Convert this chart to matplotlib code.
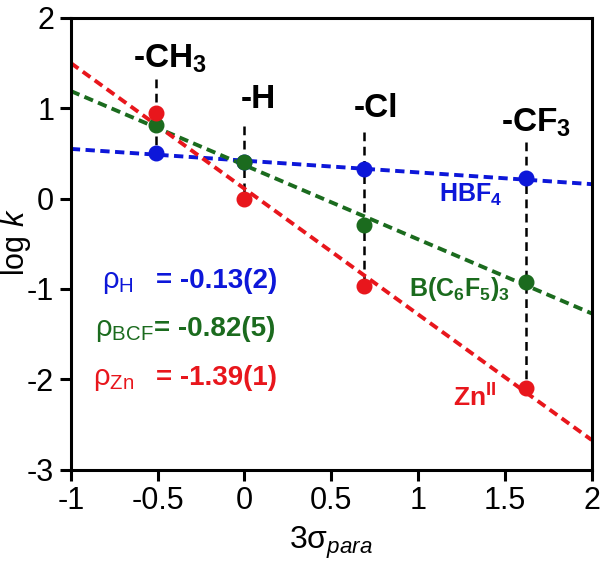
import numpy as np
import matplotlib.pyplot as plt

plt.rcParams['font.family'] = ['Liberation Sans', 'DejaVu Sans']
plt.rcParams['mathtext.fontset'] = 'custom'
plt.rcParams['mathtext.rm'] = 'Liberation Sans'
plt.rcParams['mathtext.it'] = 'Liberation Sans:italic'
plt.rcParams['mathtext.bf'] = 'Liberation Sans:bold'

# substituent constants (3*sigma_para)
sub_names = ['-CH$_{\\mathbf{3}}$', '-H', '-Cl', '-CF$_{\\mathbf{3}}$']
sigma3 = [-0.51, 0.0, 0.69, 1.62]

# log k values
logk_hbf = [0.51, 0.40, 0.33, 0.23]
logk_bcf = [0.81, 0.40, -0.29, -0.92]
logk_zn = [0.95, 0.0, -0.97, -2.09]

# fitted slopes / intercepts
rho = [-0.13, -0.82, -1.39]
icpt = [0.42, 0.37, 0.11]
rho_txt = ['= -0.13(2)', '= -0.82(5)', '= -1.39(1)']
rho_sub = ['H', 'BCF', 'Zn']

# top of black drop lines
drop_top = [1.32, 0.80, 0.74, 0.63]

blue = '#0d17d9'
green = '#1b6b1e'
red = '#e8161c'
cols = [blue, green, red]

fig = plt.figure(figsize=(6, 5.75), dpi=100)
ax = fig.add_axes([0.118, 0.183, 0.868, 0.786])

xx = np.array([-1, 2])
series = [logk_hbf, logk_bcf, logk_zn]

# vertical drop lines
for i in range(4):
    lo = min(s[i] for s in series)
    ax.plot([sigma3[i], sigma3[i]], [drop_top[i], lo], color='black', lw=1.8,
            ls=(0, (3.5, 2.2)), zorder=1)

for k in range(3):
    ax.plot(xx, rho[k] * xx + icpt[k], color=cols[k], lw=2.8,
            ls=(0, (2.4, 1.4)), zorder=2)
    ax.plot(sigma3, series[k], 'o', color=cols[k], ms=10.5, zorder=3)

# substituent labels
lab_pos = [(-0.64, 1.45), (-0.02, 1.0), (0.63, 0.90), (1.48, 0.74)]
for name, (lx, ly) in zip(sub_names, lab_pos):
    ax.text(lx, ly, name, fontsize=24, fontweight='bold', ha='left', va='baseline')

# series labels
ax.text(1.12, -0.04, 'HBF$_{\\mathbf{4}}$', color=blue, fontsize=18,
        fontweight='bold', va='baseline')
ax.text(0.95, -1.08, 'B(C$_{\\mathbf{6}}$F$_{\\mathbf{5}}$)$_{\\mathbf{3}}$',
        color=green, fontsize=18, fontweight='bold', va='baseline')
ax.text(1.20, -2.30, 'Zn$^{\\mathbf{II}}$', color=red, fontsize=19,
        fontweight='bold', va='baseline')

# rho values
rho_y = [-0.985, -1.515, -2.06]
rho_x = [-0.82, -0.86, -0.87]
val_x = [-0.51, -0.52, -0.51]
for k in range(3):
    ax.text(rho_x[k], rho_y[k], 'ρ$_{\\mathrm{%s}}$' % rho_sub[k],
            color=cols[k], fontsize=21, va='baseline')
    ax.text(val_x[k], rho_y[k], rho_txt[k], color=cols[k], fontsize=20,
            fontweight='bold', va='baseline')

ax.set_xlim(-1, 2)
ax.set_ylim(-3, 2)
ax.set_xticks([-1, -0.5, 0, 0.5, 1, 1.5, 2])
ax.set_xticklabels(['-1', '-0.5', '0', '0.5', '1', '1.5', '2'])
ax.set_yticks([-3, -2, -1, 0, 1, 2])
ax.set_yticklabels(['-3', '-2', '-1', '0', '1', '2'])
ax.tick_params(labelsize=22, width=2.2, length=8, direction='out', pad=4)
for sp in ax.spines.values():
    sp.set_linewidth(2.2)

ax.set_xlabel('3σ$_{\\mathit{para}}$', fontsize=23, labelpad=6)
ax.set_ylabel('log $\\mathit{k}$', fontsize=22)
ax.yaxis.set_label_coords(-0.072, 0.504)

fig.savefig('out.png', dpi=100)
